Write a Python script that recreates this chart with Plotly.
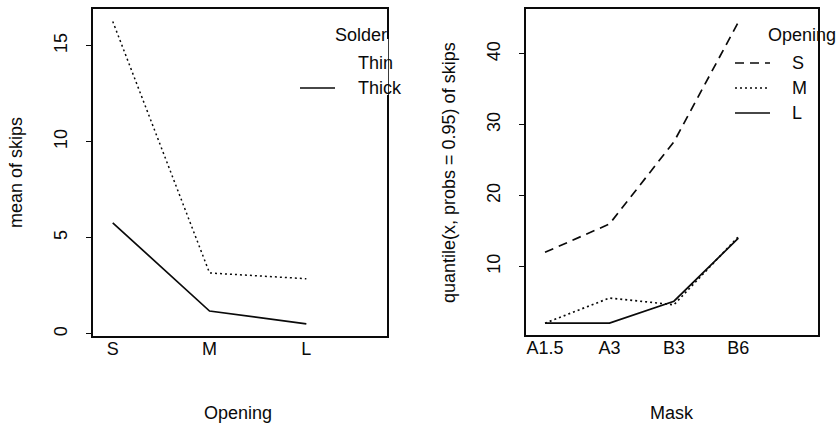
import plotly.graph_objects as go

# Left panel: mean skips by opening size, one line per solder thickness
openings = ["S", "M", "L"]
solder_levels = ["Thin", "Thick"]
mean_thin = [16.26, 3.17, 2.87]
mean_thick = [5.78, 1.19, 0.52]

# Right panel: 95% quantile of skips by mask, one line per opening size
masks = ["A1.5", "A3", "B3", "B6"]
q95_S = [12.0, 16.0, 27.6, 44.5]
q95_M = [2.0, 5.55, 4.6, 14.2]
q95_L = [2.0, 2.0, 5.1, 14.0]

W, H = 836, 423
FONT = "Liberation Sans, Arial, sans-serif"
FS = 18
INK = "#0a0a0a"

def px(x):
    return x / W

def py(y):
    return 1 - y / H

fig = go.Figure()

dash_dot = "2px,3px"
dash_long = "9px,6px"

# left panel traces
fig.add_trace(go.Scatter(x=[1, 2, 3], y=mean_thin, mode="lines",
                         line=dict(color=INK, width=1.5, dash=dash_dot),
                         xaxis="x", yaxis="y", showlegend=False))
fig.add_trace(go.Scatter(x=[1, 2, 3], y=mean_thick, mode="lines",
                         line=dict(color=INK, width=1.7),
                         xaxis="x", yaxis="y", showlegend=False))

# right panel traces
for vals, dsh in [(q95_S, dash_long), (q95_M, dash_dot), (q95_L, "solid")]:
    fig.add_trace(go.Scatter(x=[1, 2, 3, 4], y=vals, mode="lines",
                             line=dict(color=INK, width=1.7, dash=dsh),
                             xaxis="x2", yaxis="y2", showlegend=False))

axis_common = dict(showline=True, linecolor=INK, linewidth=1.6, mirror=True,
                   showgrid=False, zeroline=False,
                   tickfont=dict(family=FONT, size=FS, color=INK))
yticks = dict(ticks="outside", ticklen=5, tickcolor=INK, tickwidth=1.3,
              tickangle=-90, ticklabelstandoff=12)
xticks = dict(ticks="", ticklabelstandoff=-4)

fig.update_layout(
    width=W, height=H,
    margin=dict(l=0, r=0, t=0, b=0),
    paper_bgcolor="white", plot_bgcolor="white",
    xaxis=dict(domain=[px(92.7), px(386.7)], range=[0.793, 3.83],
               tickvals=[1, 2, 3], ticktext=openings, anchor="y",
               **xticks, **axis_common),
    yaxis=dict(domain=[py(336), py(9.3)], range=[-0.11, 16.89],
               tickvals=[0, 5, 10, 15], anchor="x", **yticks, **axis_common),
    xaxis2=dict(domain=[px(525.7), px(818.3)], range=[0.70, 5.24],
                tickvals=[1, 2, 3, 4], ticktext=masks, anchor="y2",
                **xticks, **axis_common),
    yaxis2=dict(domain=[py(335), py(9.3)], range=[0.33, 46.3],
                tickvals=[10, 20, 30, 40], anchor="x2", **yticks,
                **axis_common),
)

def label(text, x, y, angle=0, anchor="center"):
    fig.add_annotation(text=text, x=px(x), y=py(y), xref="paper", yref="paper",
                       showarrow=False, textangle=angle, xanchor=anchor,
                       yanchor="middle",
                       font=dict(family=FONT, size=FS, color=INK))

# axis titles
label("mean of skips", 16, 173, angle=-90)
label("Opening", 238, 413)
label("quantile(x, probs = 0.95) of skips", 449, 173, angle=-90)
label("Mask", 672, 413)

# left legend: its background hides part of the frame's right edge
fig.add_shape(type="line", xref="paper", yref="paper",
              x0=px(386.7), x1=px(386.7), y0=py(39), y1=py(95),
              line=dict(color="white", width=3))
label("Solder", 333, 35, anchor="left")
label(solder_levels[0], 356, 63, anchor="left")
label(solder_levels[1], 356, 88, anchor="left")
fig.add_shape(type="line", xref="paper", yref="paper",
              x0=px(300), x1=px(335), y0=py(88), y1=py(88),
              line=dict(color=INK, width=1.5))

# right legend
label("Opening", 766, 35, anchor="left")
for name, yy, dsh in [(openings[0], 63, dash_long), (openings[1], 88, dash_dot),
                      (openings[2], 113, "solid")]:
    label(name, 790, yy, anchor="left")
    fig.add_shape(type="line", xref="paper", yref="paper",
                  x0=px(735), x1=px(770), y0=py(yy), y1=py(yy),
                  line=dict(color=INK, width=1.4, dash=dsh))

fig.write_html("out.html")
